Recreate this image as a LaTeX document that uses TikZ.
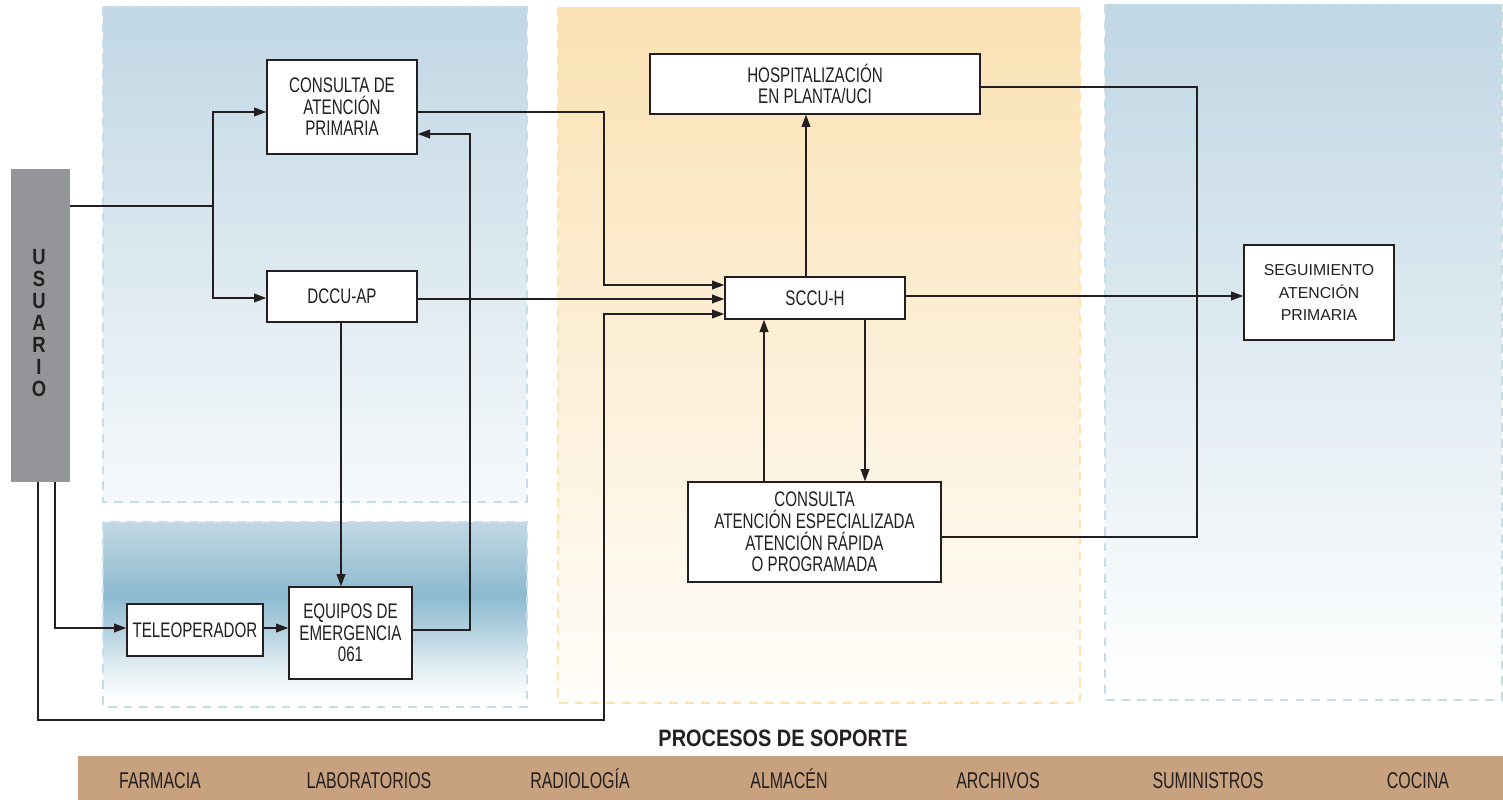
\documentclass[tikz,border=0pt]{standalone}
\usepackage{fontspec}
\setmainfont{Liberation Sans}[FakeStretch=0.72]
\newfontfamily\widesans{Liberation Sans}
\newfontfamily\narrowsans{Liberation Sans}[FakeStretch=0.70]
\newfontfamily\headsans{Liberation Sans}[FakeStretch=0.84]
\usetikzlibrary{arrows.meta,calc}

\definecolor{ink}{HTML}{231F20}
\definecolor{usugray}{HTML}{939598}
\definecolor{bluetop}{HTML}{C0D7E4}
\definecolor{bluebot}{HTML}{F6F9FB}
\definecolor{bluedash}{HTML}{C6DDE8}
\definecolor{orangetop}{HTML}{FAE1B3}
\definecolor{orangebot}{HTML}{FFFDFA}
\definecolor{orangedash}{HTML}{FDE2AE}
\definecolor{bandA}{HTML}{C2D8E4}
\definecolor{bandB}{HTML}{A6C8D8}
\definecolor{bandC}{HTML}{8CBAD0}
\definecolor{bandD}{HTML}{B2D1DF}
\definecolor{bandE}{HTML}{DFECF2}
\definecolor{support}{HTML}{C8A17E}

% band with a darker stripe a little above the middle
\pgfdeclareverticalshading{emband}{100bp}{%
  color(0bp)=(white); color(26.9bp)=(white); color(36.4bp)=(bandE);
  color(45.8bp)=(bandD); color(55.3bp)=(bandC); color(64.7bp)=(bandB);
  color(75bp)=(bandA); color(100bp)=(bandA)}

\newlength\pu
\setlength\pu{0.02cm}

\tikzset{
  box/.style={draw=ink, fill=white, line width=0.8pt, align=center,
    inner sep=0pt, text=ink, font=\fontsize{12}{12.3}\selectfont},
  ln/.style={draw=ink, line width=0.8pt},
  arr/.style={ln, -{Triangle[length=7pt,width=5pt]}},
  bluedashed/.style={draw=bluedash, line width=1.2pt, dash pattern=on 5pt off 4pt},
  orangedashed/.style={draw=orangedash, line width=1.2pt, dash pattern=on 5pt off 4pt},
  supp/.style={text=ink, anchor=base, font=\narrowsans\fontsize{13}{14}\selectfont},
}

\begin{document}
\begin{tikzpicture}[x=0.02cm, y=-0.02cm]
\useasboundingbox (0,0) rectangle (1503,800);

% process areas
\shade[top color=bluetop, bottom color=bluebot] (103,7) rectangle (527,502);
\draw[bluedashed] (103,7) rectangle (527,502);
\shade[shading=emband] (103,522) rectangle (527,707);
\draw[bluedashed] (103,522) rectangle (527,707);
\shade[top color=orangetop, bottom color=orangebot] (558,8) rectangle (1080,703);
\draw[orangedashed] (558,8) rectangle (1080,703);
\shade[top color=bluetop, bottom color=white] (1105,5) rectangle (1502,700);
\draw[bluedashed] (1105,5) rectangle (1502,700);

% user column
\node[fill=usugray, minimum width=59*\pu, minimum height=313*\pu, inner sep=0pt] (usu) at (40.5,325.5) {};
\node[align=center, text=ink, font=\headsans\fontsize{12.5}{12.5}\selectfont\bfseries] (usutxt) at (39,323) {U\\S\\U\\A\\R\\I\\O};

% boxes
\node[box, minimum width=150*\pu, minimum height=94*\pu] (cap) at (342,107) {CONSULTA DE\\ATENCIÓN\\PRIMARIA};
\node[box, minimum width=150*\pu, minimum height=51*\pu] (dccu) at (342,296.5) {DCCU-AP};
\node[box, minimum width=136*\pu, minimum height=52*\pu] (tele) at (195,630) {TELEOPERADOR};
\node[box, minimum width=123*\pu, minimum height=92*\pu] (equ) at (350.5,633) {EQUIPOS DE\\EMERGENCIA\\061};
\node[box, minimum width=330*\pu, minimum height=60*\pu] (hosp) at (815,84) {HOSPITALIZACIÓN\\EN PLANTA/UCI};
\node[box, minimum width=180*\pu, minimum height=42*\pu] (sccu) at (815,298) {SCCU-H};
\node[box, minimum width=253*\pu, minimum height=100*\pu] (cae) at (814.5,532) {CONSULTA\\ATENCIÓN ESPECIALIZADA\\ATENCIÓN RÁPIDA\\O PROGRAMADA};
\node[box, minimum width=150*\pu, minimum height=95*\pu, font=\widesans\fontsize{9}{13}\selectfont] (seg) at (1319,292.5) {SEGUIMIENTO\\ATENCIÓN\\PRIMARIA};

% connectors
\coordinate (j1) at (213,206);
\draw[ln] (usu.east |- j1) -- (j1);
\draw[arr] (j1) |- (cap.west |- 0,112);
\draw[arr] (j1) |- (dccu.west |- 0,298);
\draw[arr] (cap.east |- 0,112) -| (604,285) -- (sccu.west |- 0,285);
\draw[arr] (dccu.east |- 0,299) -- (sccu.west |- 0,299);
\draw[arr] (dccu.south -| 341,0) -- (equ.north -| 341,0);
\draw[arr] (equ.east |- 0,630) -| (470,134) -- (cap.east |- 0,134);
\draw[arr] (usu.south -| 55,0) |- (tele.west |- 0,628);
\draw[arr] (tele.east |- 0,628) -- (equ.west |- 0,628);
\draw[arr] (usu.south -| 38,0) |- (604,720) |- (sccu.west |- 0,314);
\draw[arr] (sccu.north -| 806,0) -- (hosp.south -| 806,0);
\draw[arr] (cae.north -| 764,0) -- (sccu.south -| 764,0);
\draw[arr] (sccu.south -| 865,0) -- (cae.north -| 865,0);
\draw[arr] (sccu.east |- 0,296) -- (seg.west |- 0,296);
\draw[ln] (hosp.east |- 0,87) -| (1197,537) -- (cae.east |- 0,537);

% support processes
\node[text=ink, font=\headsans\fontsize{13.5}{15}\selectfont\bfseries] (sop) at (783,738) {PROCESOS DE SOPORTE};
\node[fill=support, minimum width=1425*\pu, minimum height=44*\pu, inner sep=0pt, anchor=north west] (bar) at (78,756) {};
\node[supp] (s1) at (160,788) {FARMACIA};
\node[supp] (s2) at (369,788) {LABORATORIOS};
\node[supp] (s3) at (580,788) {RADIOLOGÍA};
\node[supp] (s4) at (789,788) {ALMACÉN};
\node[supp] (s5) at (998,788) {ARCHIVOS};
\node[supp] (s6) at (1208,788) {SUMINISTROS};
\node[supp] (s7) at (1418,788) {COCINA};
\end{tikzpicture}
\end{document}
